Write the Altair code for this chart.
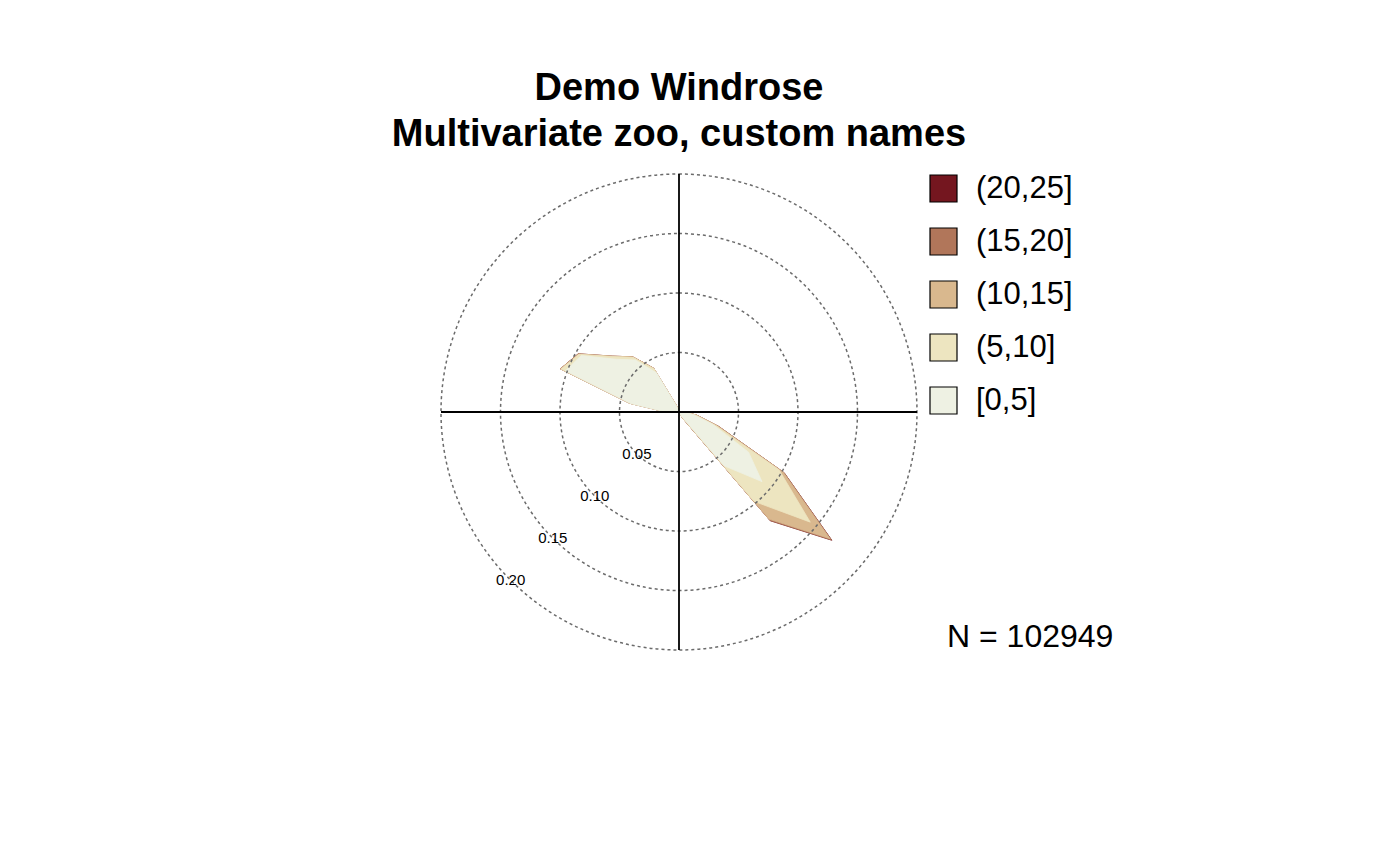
import numpy as np
import pandas as pd
import altair as alt

title_lines = ["Demo Windrose", "Multivariate zoo, custom names"]
n_obs = 102949

directions = list(range(0, 360, 10))  # bearing of each bin, 0 = N, clockwise
band_labels = ["[0,5]", "(5,10]", "(10,15]", "(15,20]", "(20,25]"]
band_colors = ["#EEF1E3", "#EDE5C0", "#D9B88E", "#B1765A", "#74161F"]

# relative frequency of each speed band per direction bin
freq_0_5 = [
    0, 0, 0, 0, 0, 0, 0, 0, 0, 0.004, 0.012, 0.030,
    0.0675, 0.091, 0.059, 0.004, 0, 0, 0, 0, 0, 0, 0, 0,
    0, 0, 0.002, 0.011, 0.041, 0.1015, 0.0948, 0.069, 0.057, 0.038, 0.004, 0,
]
freq_5_10 = [
    0, 0, 0, 0, 0, 0, 0, 0, 0, 0.001, 0.002, 0.003,
    0.0295, 0.053, 0.039, 0.001, 0, 0, 0, 0, 0, 0, 0, 0,
    0, 0, 0, 0, 0.001, 0.004, 0.0022, 0.0035, 0.003, 0.004, 0.001, 0,
]
freq_10_15 = [
    0, 0, 0, 0, 0, 0, 0, 0, 0, 0, 0.001, 0.002,
    0.004, 0.0217, 0.0195, 0.001, 0, 0, 0, 0, 0, 0, 0, 0,
    0, 0, 0, 0, 0, 0.0005, 0.0005, 0.0005, 0.0005, 0.0005, 0, 0,
]
freq_15_20 = [
    0, 0, 0, 0, 0, 0, 0, 0, 0, 0, 0, 0.0005,
    0.001, 0.0015, 0.0015, 0, 0, 0, 0, 0, 0, 0, 0, 0,
    0, 0, 0, 0, 0, 0, 0.0003, 0, 0, 0, 0, 0,
]
freq_20_25 = [
    0, 0, 0, 0, 0, 0, 0, 0, 0, 0, 0, 0,
    0, 0.0005, 0.0003, 0, 0, 0, 0, 0, 0, 0, 0, 0,
    0, 0, 0, 0, 0, 0, 0, 0, 0, 0, 0, 0,
]
rings = [0.05, 0.10, 0.15, 0.20]

FONT = "Liberation Sans"
PX = 1190  # pixels per unit of frequency
W, H = 1332, 500
CY = 247  # centre row inside the plot area

xs = alt.Scale(domain=[-W / 2 / PX, W / 2 / PX], nice=False, zero=False)
ys = alt.Scale(domain=[-(H - CY) / PX, CY / PX], nice=False, zero=False)

freqs = np.array([freq_0_5, freq_5_10, freq_10_15, freq_15_20, freq_20_25])
cum = np.cumsum(freqs, axis=0)
theta = np.radians(directions)

fill_scale = alt.Scale(domain=band_labels[::-1], range=band_colors[::-1])
legend = alt.Legend(
    title=None, orient="none", legendX=915, legendY=8, padding=0,
    symbolType="square", symbolSize=729, symbolStrokeColor="black",
    symbolStrokeWidth=1.2, symbolOpacity=1, labelFontSize=31, labelFont=FONT,
    labelColor="black", labelOffset=17, rowPadding=20, labelLimit=300,
)

# outermost (cumulative total) polygon first, then the smaller ones on top
polys = []
for k in range(len(band_labels) - 1, -1, -1):
    d = pd.DataFrame({
        "idx": range(len(directions)),
        "x": cum[k] * np.sin(theta),
        "y": cum[k] * np.cos(theta),
        "band": band_labels[k],
    })
    polys.append(
        alt.Chart(d).mark_line(
            interpolate="linear-closed", stroke=band_colors[k], strokeWidth=0.8
        ).encode(
            x=alt.X("x:Q", scale=xs, axis=None),
            y=alt.Y("y:Q", scale=ys, axis=None),
            order="idx:Q",
            fill=alt.Fill("band:N", scale=fill_scale, legend=legend),
        )
    )

ring_df = pd.DataFrame({"ring": rings, "cx": 0.0, "cy": 0.0})
circles = alt.Chart(ring_df).mark_arc(
    filled=False, color="#6b6b6b", strokeWidth=1.5, strokeDash=[3, 3]
).encode(
    x=alt.X("cx:Q", scale=xs, axis=None),
    y=alt.Y("cy:Q", scale=ys, axis=None),
    radius=alt.Radius("ring:Q", stack=False,
                      scale=alt.Scale(type="linear", domain=[0, max(rings)],
                                      range=[0, max(rings) * PX])),
    theta=alt.value(0),
    theta2=alt.value(2 * np.pi),
)

R = max(rings)
cross_df = pd.DataFrame({"x": [-R, 0], "x2": [R, 0], "y": [0, -R], "y2": [0, R]})
cross = alt.Chart(cross_df).mark_rule(color="black", strokeWidth=1.8).encode(
    x=alt.X("x:Q", scale=xs, axis=None), x2="x2:Q",
    y=alt.Y("y:Q", scale=ys, axis=None), y2="y2:Q",
)

a = np.radians(225)
lab_df = pd.DataFrame({
    "x": [r * np.sin(a) for r in rings],
    "y": [r * np.cos(a) for r in rings],
    "text": [f"{r:.2f}" for r in rings],
})
labels = alt.Chart(lab_df).mark_text(font=FONT, fontSize=15, color="black").encode(
    x=alt.X("x:Q", scale=xs, axis=None),
    y=alt.Y("y:Q", scale=ys, axis=None),
    text="text:N",
)

n_text = alt.Chart(pd.DataFrame({"t": [f"N = {n_obs}"]})).mark_text(
    font=FONT, fontSize=32, align="left", baseline="alphabetic", color="black"
).encode(x=alt.value(934), y=alt.value(482), text="t:N")

chart = alt.layer(*polys, circles, cross, labels, n_text).properties(
    width=W, height=H,
    title=alt.TitleParams(text=title_lines, font=FONT, fontSize=38, fontWeight="bold",
                          anchor="middle", lineHeight=46, offset=11, color="black",
                          frame="group"),
    padding={"left": 5, "top": 157, "right": 5, "bottom": 5},
    autosize=alt.AutoSizeParams(type="none"),
).configure_view(strokeWidth=0)

chart.save("out.html", embed_options={"renderer": "svg", "actions": False})
